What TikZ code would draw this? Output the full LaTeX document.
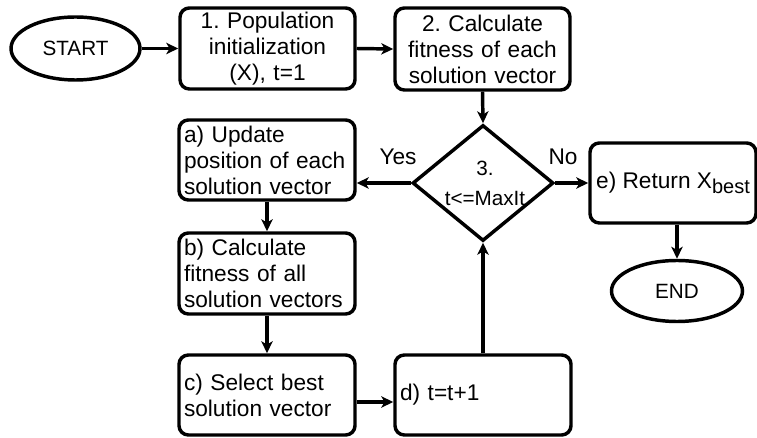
\documentclass[tikz,border=0pt]{standalone}
\usepackage{fontspec}
\setmainfont{Liberation Sans}
\usetikzlibrary{shapes.geometric,arrows.meta}
\frenchspacing
\begin{document}
\begin{tikzpicture}[x=0.75pt,y=-0.75pt,
  line width=2.6pt,
  proc/.style={draw, rounded corners=7pt, minimum height=60pt, inner xsep=3.75pt, inner ysep=0pt, font=\fontsize{17}{19.5}\selectfont},
  procL/.style={proc, align=left, text width=124.5pt},
  procC/.style={proc, align=center, text width=124.5pt},
  term/.style={draw, ellipse, inner sep=0pt, font=\fontsize{15.5}{18}\selectfont},
  arr/.style={-{Stealth[length=9pt,width=8.5pt,inset=2.5pt]}},
  lbl/.style={font=\fontsize{17}{19}\selectfont}
]
\useasboundingbox (0,0) rectangle (757,438);
% terminals
\node[term, minimum width=96.75pt, minimum height=47.25pt] (start) at (75.5,48.5) {START};
\node[term, minimum width=98.25pt, minimum height=45.75pt] (end) at (677,291) {END};
% process boxes
\node[procC, minimum height=60.75pt, text width=123.75pt] (p1) at (267.5,48.5) {1. Population\\initialization\\(X), t=1};
\node[procC, minimum height=61.5pt, text width=123.75pt] (p2) at (482.5,49) {2. Calculate\\fitness of each\\solution vector};
\node[procL] (pa) at (267,160) {a) Update\\position of each\\solution vector};
\node[procL, minimum height=60.75pt] (pb) at (267,273.5) {b) Calculate\\fitness of all\\solution vectors};
\node[procL] (pc) at (267,395) {c) Select best\\solution vector};
\node[procL] (pd) at (483,395) {d) t=t+1};
\node[proc, minimum width=124.5pt] (pe) at (673,183) {e) Return X\raisebox{-0.35ex}{\fontsize{15}{15}\selectfont best}};
% decision
\node[draw, diamond, minimum width=105.75pt, minimum height=87pt, inner sep=0pt] (dia) at (483,183) {};
\node[font=\fontsize{15.5}{22.5}\selectfont, align=center] (diatext) at (485,183) {3.\\t<=MaxIt};
% labels
\node[lbl] (yes) at (398,157) {Yes};
\node[lbl] (no) at (563,157) {No};
% connectors
\draw[arr] (start.east) -- (p1.west);
\draw[arr] (p1.east) -- (p2.west);
\draw[arr] (p2.south) -- (dia.north);
\draw[arr] (dia.west) -- (dia.west -| pa.east);
\draw[arr] (dia.east) -- (dia.east -| pe.west);
\draw[arr] (pa.south) -- (pb.north);
\draw[arr] (pb.south) -- (pc.north);
\draw[arr] ([yshift=-5.25pt]pc.east) -- ([yshift=-5.25pt]pc.east -| pd.west);
\draw[arr] (pd.north) -- (dia.south);
\draw[arr] (pe.south -| end.north) -- (end.north);
\end{tikzpicture}
\end{document}
